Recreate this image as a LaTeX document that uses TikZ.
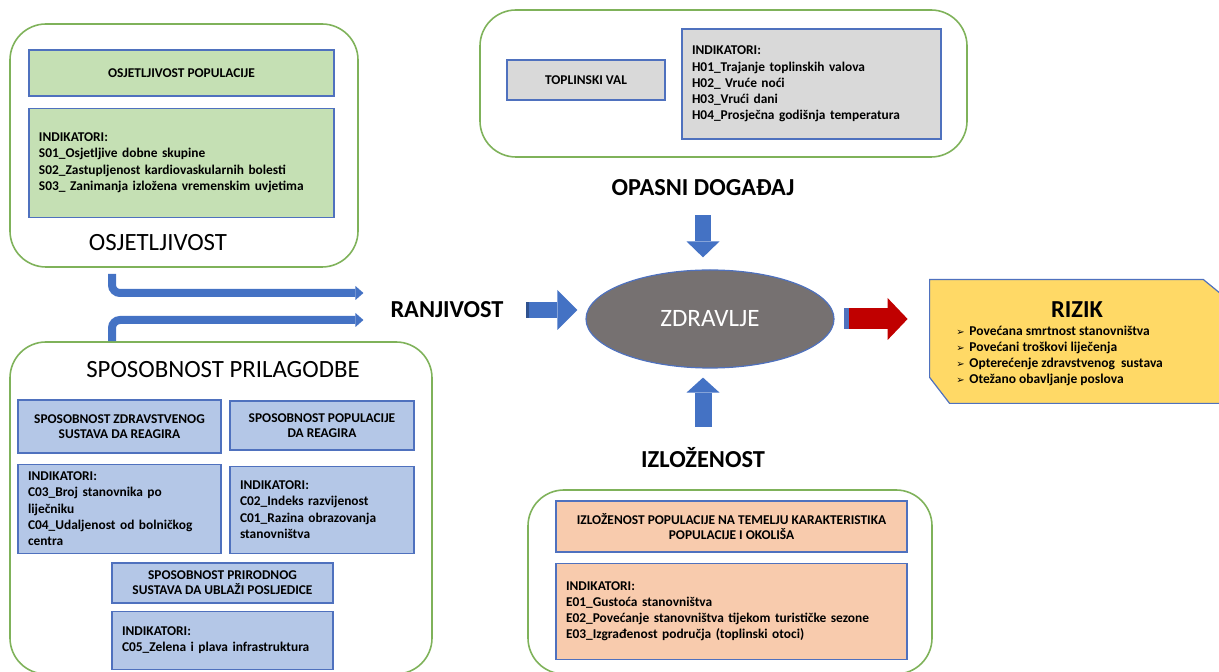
\documentclass[tikz,border=0pt]{standalone}
\usepackage{fontspec}
\setmainfont{Carlito}
\newfontfamily\symfont{DejaVu Sans}
\usepackage{xcolor}
\usepackage{tikz}
\usetikzlibrary{arrows.meta,positioning,shapes.geometric}

\definecolor{panelgreen}{HTML}{7FB25A}
\definecolor{boxedge}{HTML}{4F71BE}
\definecolor{osjfill}{HTML}{C5E0B4}
\definecolor{opasfill}{HTML}{D9D9D9}
\definecolor{sposfill}{HTML}{B4C7E7}
\definecolor{izlfill}{HTML}{F8CBAD}
\definecolor{rizikfill}{HTML}{FFD966}
\definecolor{zdrfill}{HTML}{767171}
\definecolor{arrowblue}{HTML}{4472C4}
\definecolor{arrowdark}{HTML}{2F528F}
\definecolor{arrowred}{HTML}{C00000}

\newcommand{\riskitem}{\makebox[6.5pt][l]{\symfont\fontsize{5}{8}\selectfont ➢}}

\begin{document}
\begin{tikzpicture}[x=0.5pt, y=-0.5pt]
    % Styles
    \tikzstyle{panel} = [rectangle, draw=panelgreen, line width=0.8pt, rounded corners=18pt]
    \tikzstyle{box} = [rectangle, draw=boxedge, line width=0.6pt, align=center, font=\fontsize{6.7}{7.6}\selectfont\bfseries]
    \tikzstyle{ind} = [box, align=left, inner xsep=5pt, font=\fontsize{6.7}{8.1}\selectfont\bfseries]
    \tikzstyle{heading} = [font=\fontsize{12.4}{15}\selectfont]
    \tikzstyle{bigbold} = [font=\fontsize{12.2}{14}\selectfont\bfseries]
    \tikzstyle{flow} = [draw=arrowblue, line width=4pt, rounded corners=4pt, -{Triangle[width=7pt,length=4pt,line width=0pt]}]
    \tikzstyle{fat} = [draw=arrowblue, line width=8pt, {Rectangle[length=1.5pt,width=8pt,color=arrowdark,line width=0pt]}-{Triangle[width=20pt,length=10pt,line width=0pt]}]

    \clip (0,0) rectangle (1219,672);

    % OSJETLJIVOST
    \node [panel, minimum width=174pt, minimum height=121.5pt] (osj) at (184,145.5) {};
    \node [box, fill=osjfill, minimum width=152.5pt, minimum height=23pt] (osjpop) at (181.5,73) {OSJETLJIVOST POPULACIJE};
    \node [ind, fill=osjfill, text width=142.5pt, minimum height=54.5pt, below=5.5pt of osjpop] (osjind) {INDIKATORI:\\
        S01\_Osjetljive dobne skupine\\
        S02\_Zastupljenost kardiovaskularnih bolesti\\
        S03\_ Zanimanja izložena vremenskim uvjetima};
    \node [heading] (osjlbl) at (158,243) {OSJETLJIVOST};

    % OPASNI DOGADJAJ
    \node [panel, minimum width=243.5pt, minimum height=73.5pt] (opas) at (723.5,83.5) {};
    \node [box, fill=opasfill, minimum width=79pt, minimum height=20pt] (toplval) at (586,80) {TOPLINSKI VAL};
    \node [ind, fill=opasfill, text width=119.5pt, minimum height=55pt] (opasind) at (811.5,84) {INDIKATORI:\\
        H01\_Trajanje toplinskih valova\\
        H02\_ Vruće noći\\
        H03\_Vrući dani\\
        H04\_Prosječna godišnja temperatura};
    \node [bigbold] (opaslbl) at (703,188) {OPASNI DOGAĐAJ};

    % SPOSOBNOST PRILAGODBE
    \node [panel, minimum width=211pt, minimum height=166pt] (spos) at (221,508) {};
    \node [heading] (sposlbl) at (223,370) {SPOSOBNOST PRILAGODBE};
    \node [box, fill=sposfill, minimum width=101.5pt, minimum height=26.5pt] (zdrsus) at (119.5,426.5) {SPOSOBNOST ZDRAVSTVENOG\\ SUSTAVA DA REAGIRA};
    \node [ind, fill=sposfill, text width=91.5pt, minimum height=44.5pt, below=5pt of zdrsus] (zdrsusind) {INDIKATORI:\\
        C03\_Broj stanovnika po\\
        liječniku\\
        C04\_Udaljenost od bolničkog\\
        centra};
    \node [box, fill=sposfill, minimum width=92pt, minimum height=24.5pt] (popsus) at (322,425.5) {SPOSOBNOST POPULACIJE\\ DA REAGIRA};
    \node [ind, fill=sposfill, text width=82pt, minimum height=43.5pt, below=7.5pt of popsus] (popsusind) {INDIKATORI:\\
        C02\_Indeks razvijenost\\
        C01\_Razina obrazovanja\\
        stanovništva};
    \node [box, fill=sposfill, minimum width=110.5pt, minimum height=20pt] (prisus) at (222.5,583) {SPOSOBNOST PRIRODNOG\\ SUSTAVA DA UBLAŽI POSLJEDICE};
    \node [ind, fill=sposfill, text width=100.5pt, minimum height=29pt, below=3.5pt of prisus] (prisusind) {INDIKATORI:\\
        C05\_Zelena i plava infrastruktura};

    % IZLOZENOST
    \node [panel, minimum width=202pt, minimum height=92pt] (izl) at (730,582) {};
    \node [box, fill=izlfill, minimum width=175.5pt, minimum height=25.5pt] (izlpop) at (731.5,526.5) {IZLOŽENOST POPULACIJE NA TEMELJU KARAKTERISTIKA\\ POPULACIJE I OKOLIŠA};
    \node [ind, fill=izlfill, text width=165.5pt, minimum height=48pt, below=5pt of izlpop] (izlind) {INDIKATORI:\\
        E01\_Gustoća stanovništva\\
        E02\_Povećanje stanovništva tijekom turističke sezone\\
        E03\_Izgrađenost područja (toplinski otoci)};
    \node [bigbold] (izllbl) at (703,458) {IZLOŽENOST};

    % Centre
    \node [ellipse, draw=boxedge, line width=0.6pt, fill=zdrfill, text=white, minimum width=124pt, minimum height=49pt, font=\fontsize{12.5}{14}\selectfont] (zdr) at (710,319) {ZDRAVLJE};
    \node [bigbold] (ranj) at (447,310) {RANJIVOST};

    % RIZIK
    \node [minimum width=147.5pt, minimum height=61.5pt, inner sep=0pt] (rizik) at (1077.5,341.5) {};
    \draw [draw=boxedge, line width=0.6pt, fill=rizikfill] (rizik.north west) -- ([xshift=-11pt]rizik.north east) -- ([yshift=-9pt]rizik.north east)
        -- (rizik.south east) -- ([xshift=10pt]rizik.south west) -- ([yshift=13pt]rizik.south west) -- cycle;
    \node [bigbold] (riziklbl) at (1077,310) {RIZIK};
    \node [anchor=north west, inner sep=0pt, align=left, font=\fontsize{6.75}{7.9}\selectfont\bfseries] (rizikpos) at (956,326) {\riskitem Povećana smrtnost stanovništva\\
        \riskitem Povećani troškovi liječenja\\
        \riskitem Opterećenje zdravstvenog\ \ sustava\\
        \riskitem Otežano obavljanje poslova};

    % Connections
    \coordinate (osjout) at (112,274);
    \draw [flow, shorten >=10pt] (osjout) |- ([yshift=8.5pt]ranj.west);
    \draw [flow, shorten >=10pt] (spos.north -| osjout) |- ([yshift=-5pt]ranj.west);
    \draw [fat, shorten <=7.5pt, shorten >=4pt] (ranj.east) -- (ranj.east -| zdr.west);
    \draw [fat, -{Triangle[width=16.5pt,length=8pt,line width=0pt]}, shorten <=6pt, shorten >=6pt] (opaslbl.south) -- (opaslbl.south |- zdr.north);
    \draw [fat, line width=8.5pt, -{Triangle[width=16.5pt,length=7.5pt,line width=0pt]}, shorten <=7pt, shorten >=4.5pt] (izllbl.north) -- (izllbl.north |- zdr.south);
    \draw [fat, draw=arrowred, line width=10.5pt, {Rectangle[length=2.5pt,width=10.5pt,color=boxedge,line width=0pt]}-{Triangle[width=21pt,length=10pt,line width=0pt]}, shorten <=4.5pt, shorten >=11pt] (zdr.east) -- (zdr.east -| rizik.west);
\end{tikzpicture}
\end{document}
